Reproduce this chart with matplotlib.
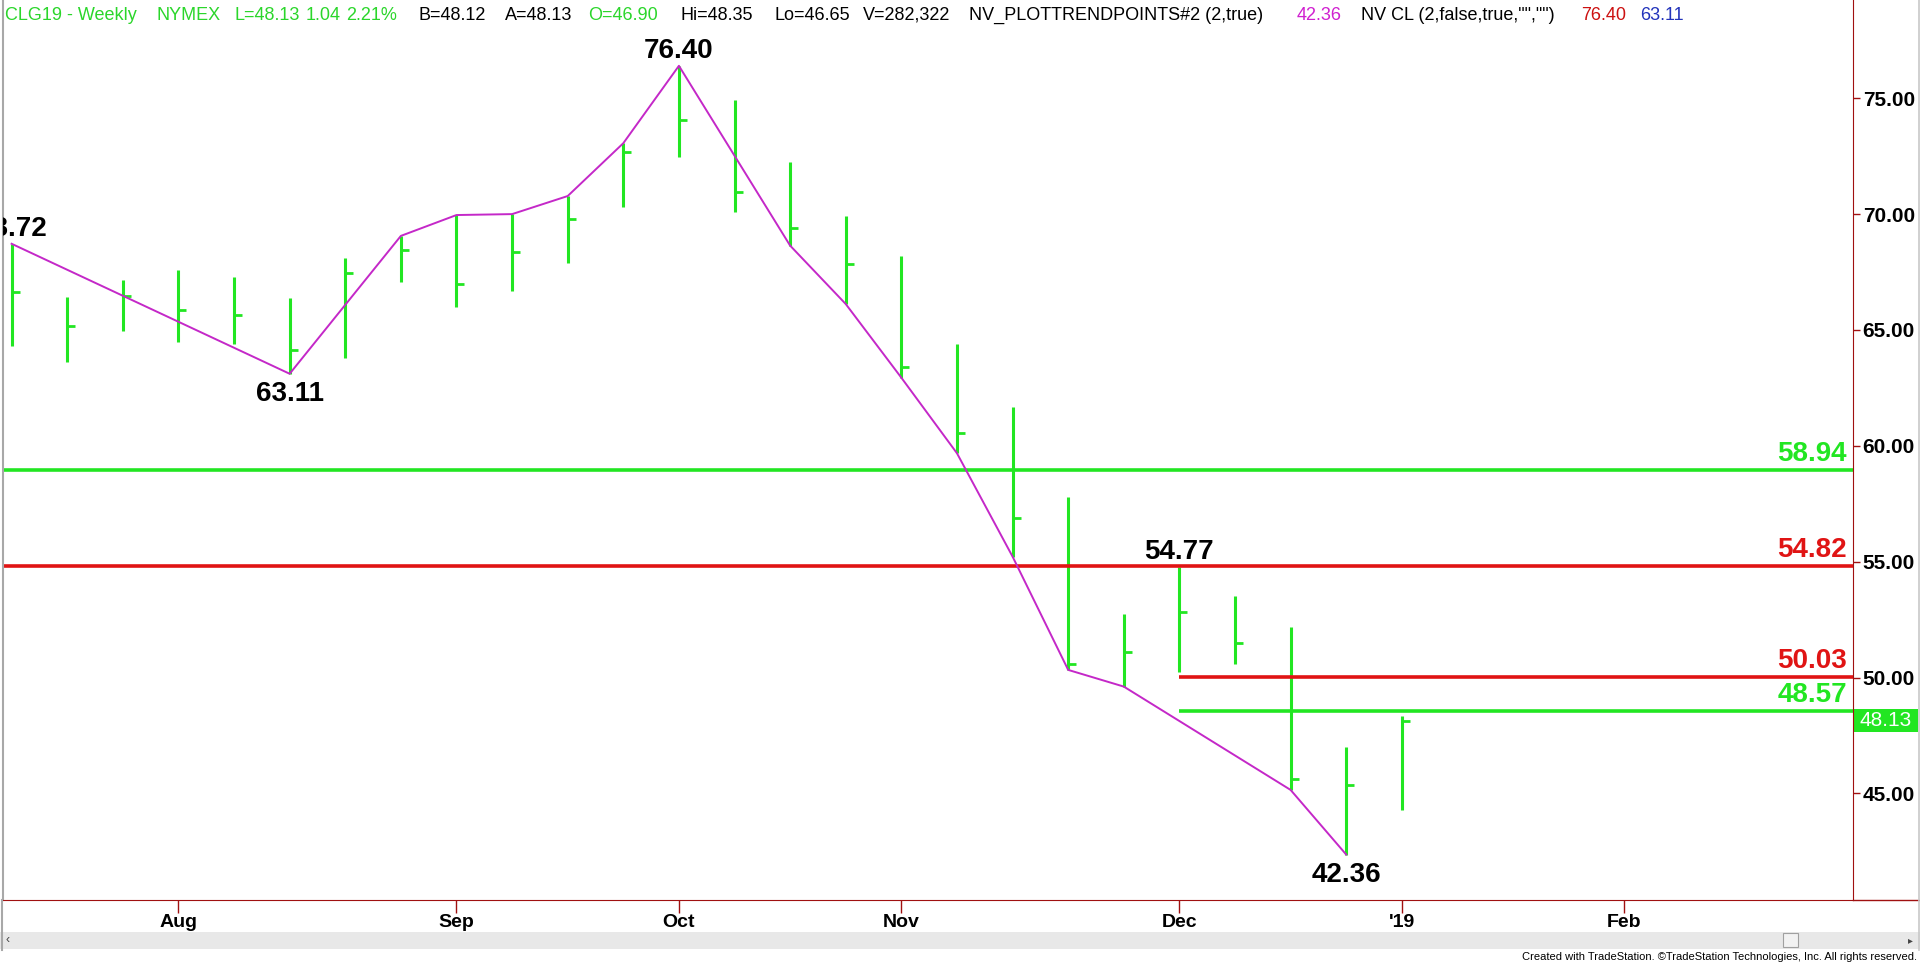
import matplotlib
matplotlib.use("Agg")
import matplotlib.pyplot as plt
import matplotlib.dates as mdates
import matplotlib.transforms as mtransforms
from matplotlib.patches import Rectangle
from matplotlib.lines import Line2D
import pandas as pd

plt.rcParams['font.family'] = ['Liberation Sans', 'DejaVu Sans']

# weekly bars of CLG19 (friday dates), high / low / close
weeks = ['2018-07-13', '2018-07-20', '2018-07-27', '2018-08-03', '2018-08-10', '2018-08-17',
         '2018-08-24', '2018-08-31', '2018-09-07', '2018-09-14', '2018-09-21', '2018-09-28',
         '2018-10-05', '2018-10-12', '2018-10-19', '2018-10-26', '2018-11-02', '2018-11-09',
         '2018-11-16', '2018-11-23', '2018-11-30', '2018-12-07', '2018-12-14', '2018-12-21',
         '2018-12-28', '2019-01-04']
highs = [68.72, 66.44, 67.14, 67.59, 67.30, 66.37, 68.09, 69.06, 69.96, 70.00, 70.78, 73.06,
         76.40, 74.93, 72.24, 69.93, 68.21, 64.38, 61.66, 57.81, 52.73, 54.77, 53.53, 52.20,
         47.02, 48.35]
lows = [64.31, 63.61, 64.97, 64.50, 64.40, 63.11, 63.78, 67.06, 65.98, 66.70, 67.88, 70.30,
        72.45, 70.11, 68.64, 66.12, 62.94, 59.68, 55.22, 50.33, 49.61, 50.25, 50.57, 45.15,
        42.36, 44.28]
closes = [66.63, 65.17, 66.45, 65.86, 65.63, 64.14, 67.45, 68.45, 66.97, 68.35, 69.78, 72.67,
          74.06, 70.97, 69.39, 67.84, 63.39, 60.54, 56.87, 50.58, 51.09, 52.82, 51.48, 45.61,
          45.36, 48.13]

# trend points line (bar index, H = high / L = low)
pivot_bars = [0, 5, 7, 8, 9, 10, 11, 12, 14, 15, 16, 17, 18, 19, 20, 23, 24]
pivot_side = ['H', 'L', 'H', 'H', 'H', 'H', 'H', 'H', 'L', 'L', 'L', 'L', 'L', 'L', 'L', 'L', 'L']

# labelled swing points
label_bars = [0, 5, 12, 21, 24]
label_side = ['H', 'L', 'H', 'H', 'L']

# horizontal levels
levels = [58.94, 54.82, 50.03, 48.57]
level_colors = ['#22e622', '#e01414', '#e01414', '#22e622']
level_start = [None, None, '2018-12-07', '2018-12-07']

month_ticks = ['2018-08-03', '2018-09-07', '2018-10-05', '2018-11-02', '2018-12-07',
               '2019-01-04', '2019-02-01']
month_labels = ['Aug', 'Sep', 'Oct', 'Nov', 'Dec', "'19", 'Feb']
price_ticks = [45, 50, 55, 60, 65, 70, 75]
last_price = 48.13

header_parts = ['CLG19 - Weekly', 'NYMEX', 'L=48.13', '1.04', '2.21%', 'B=48.12', 'A=48.13',
                'O=46.90', 'Hi=48.35', 'Lo=46.65', 'V=282,322', 'NV_PLOTTRENDPOINTS#2 (2,true)',
                '42.36', 'NV CL (2,false,true,"","")', '76.40', '63.11']
header_colors = ['#2bd62b'] * 5 + ['black'] * 2 + ['#2bd62b'] + ['black'] * 4 + \
                ['#d020d0', 'black', '#cc1111', '#2233bb']
header_x = [5, 156, 234, 306, 346, 419, 505, 588, 680, 774, 863, 969, 1297, 1361, 1581, 1640]

GREEN = '#22e622'
AXRED = '#a01010'
W, H = 1920, 964

d = mdates.date2num(pd.to_datetime(weeks))
fig = plt.figure(figsize=(19.2, 9.64), dpi=100)
fig.patch.set_facecolor('white')
ax = fig.add_axes([3 / W, 64 / H, 1850 / W, 900 / H])

# bars
ax.vlines(d, lows, highs, color=GREEN, lw=2.2)
ax.plot(d, closes, ls='none', marker=1, ms=5.5, mew=2.0, color=GREEN)

# horizontal levels
x0 = mdates.date2num(pd.Timestamp('2018-07-11 22:00'))
x1 = mdates.date2num(pd.Timestamp('2019-03-01 19:00'))
for v, c, s in zip(levels, level_colors, level_start):
    xs = x0 if s is None else mdates.date2num(pd.Timestamp(s))
    ax.hlines(v, xs, x1, color=c, lw=2.6)

# trend points line
px = [d[i] for i in pivot_bars]
py = [highs[i] if s == 'H' else lows[i] for i, s in zip(pivot_bars, pivot_side)]
ax.plot(px, py, color='#c428c8', lw=1.4)

for i, s in zip(label_bars, label_side):
    if s == 'H':
        ax.annotate(f'{highs[i]:.2f}', (d[i], highs[i]), xytext=(0, 8), textcoords='offset pixels',
                    ha='center', va='baseline', fontsize=20, fontweight='bold', clip_on=True)
    else:
        ax.annotate(f'{lows[i]:.2f}', (d[i], lows[i]), xytext=(0, -7), textcoords='offset pixels',
                    ha='center', va='top', fontsize=20, fontweight='bold', clip_on=True)

trans = mtransforms.blended_transform_factory(ax.transAxes, ax.transData)
for v, c in zip(levels, level_colors):
    ax.annotate(f'{v:.2f}', (1, v), xycoords=trans, xytext=(-6, 9), textcoords='offset pixels',
                ha='right', va='baseline', fontsize=20, fontweight='bold', color=c)

ax.set_xlim(x0, x1)
ax.set_ylim(40.40, 79.24)

ax.set_xticks(mdates.date2num(pd.to_datetime(month_ticks)))
ax.set_xticklabels(month_labels, fontsize=14, fontweight='bold')
ax.tick_params(axis='x', direction='out', length=9, width=1, color=AXRED, pad=1)
ax.yaxis.tick_right()
ax.set_yticks(price_ticks)
ax.set_yticklabels([f'{p:.2f}' for p in price_ticks], fontsize=15, fontweight='bold')
ax.tick_params(axis='y', direction='out', length=5, width=1, color=AXRED, pad=2)

ax.spines['top'].set_visible(False)
ax.spines['left'].set_color('#a8a8a8')
ax.spines['left'].set_linewidth(1.5)
ax.spines['right'].set_color(AXRED)
ax.spines['bottom'].set_color(AXRED)

# last price box
ax.add_patch(Rectangle((1.0, last_price - 0.5), 65 / 1850, 1.0, transform=trans,
                       facecolor=GREEN, edgecolor='none', clip_on=False))
ax.text(1.0 + 33 / 1850, last_price, f'{last_price:.2f}', transform=trans, ha='center',
        va='center', fontsize=15, color='white')

fig.add_artist(Line2D([1853 / W, 1], [64 / H, 64 / H], color=AXRED, lw=1))

# header
for t, c, x in zip(header_parts, header_colors, header_x):
    fig.text(x / W, 1 - 15 / H, t, color=c, fontsize=13, ha='left', va='center')

# scroll bar, borders and footer
fig.add_artist(Rectangle((0, 1 - 949 / H), 1, 17 / H, transform=fig.transFigure,
                         facecolor='#e8e8e8', edgecolor='none'))
fig.add_artist(Rectangle((1783 / W, 1 - 947 / H), 15 / W, 14 / H, transform=fig.transFigure,
                         facecolor='#f2f2f2', edgecolor='#a0a0a0', lw=0.8))
fig.text(8 / W, 1 - 940 / H, '‹', fontsize=9, ha='center', va='center', color='#444444')
fig.text(1910 / W, 1 - 940 / H, '▸', fontsize=7, ha='center', va='center', color='#444444',
         family='DejaVu Sans')
fig.add_artist(Line2D([1.5 / W, 1.5 / W], [1 - 950 / H, 64 / H], color='#a8a8a8', lw=1.5))
fig.add_artist(Line2D([1918.5 / W, 1918.5 / W], [1 - 950 / H, 1], color='#c8c8c8', lw=1.2))
fig.text(1917 / W, 1 - 957 / H,
         'Created with TradeStation. \u00a9TradeStation Technologies, Inc. All rights reserved.',
         fontsize=8, ha='right', va='center', family=['Liberation Sans Narrow', 'Liberation Sans'])

fig.savefig('out.png', dpi=100, facecolor='white')
